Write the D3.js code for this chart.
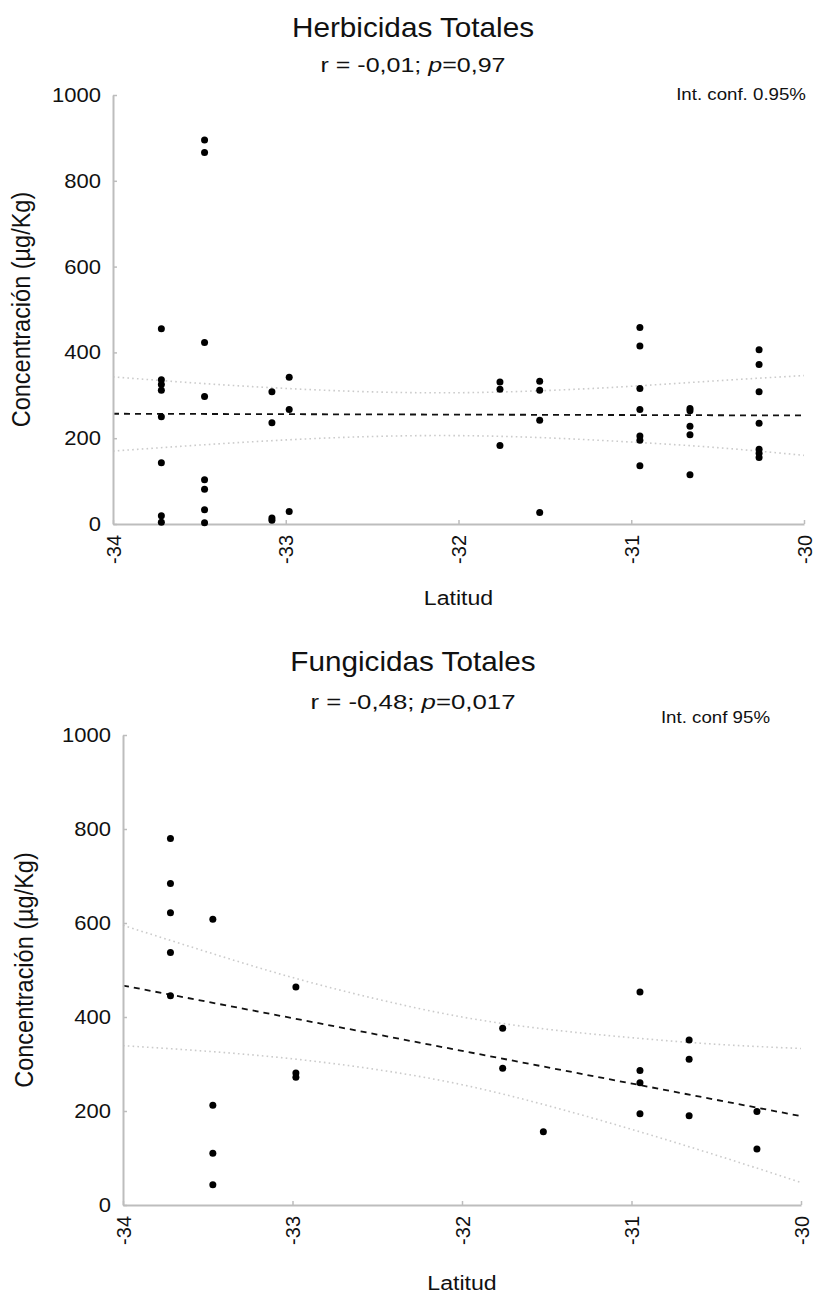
<!DOCTYPE html>
<html>
<head>
<meta charset="utf-8">
<script src="https://cdn.jsdelivr.net/npm/d3@7"></script>
<style>
  html, body { margin: 0; padding: 0; background: #fff; }
  svg text { font-family: "Liberation Sans", Arial, Helvetica, sans-serif; fill: #111; }
</style>
</head>
<body>
<svg id="fig" width="814" height="1294"></svg>
<script>
// Herbicides: sampling latitude and total concentration (µg/Kg)
const herbLat = [
  -33.72, -33.72, -33.72, -33.72, -33.72, -33.72, -33.72, -33.72,
  -33.47, -33.47, -33.47, -33.47, -33.47, -33.47, -33.47, -33.47,
  -33.08, -33.08, -33.08, -33.08,
  -32.98, -32.98, -32.98,
  -31.76, -31.76, -31.76,
  -31.53, -31.53, -31.53, -31.53,
  -30.95, -30.95, -30.95, -30.95, -30.95, -30.95, -30.95,
  -30.66, -30.66, -30.66, -30.66, -30.66,
  -30.26, -30.26, -30.26, -30.26, -30.26, -30.26, -30.26
];
const herbVal = [
  455, 336, 325, 312, 250, 143, 19, 4,
  895, 866, 423, 297, 103, 81, 33, 3,
  308, 236, 14, 9,
  342, 267, 29,
  331, 314, 183,
  333, 312, 242, 27,
  458, 415, 316, 267, 205, 195, 136,
  269, 264, 228, 208, 115,
  406, 372, 308, 235, 174, 165, 155
];
// Herbicides: fitted line and 95% confidence band
const herbFitLat = [-34, -30];
const herbFitVal = [257, 253];
const herbCiLat   = [-34, -33.5, -33, -32.5, -32, -31.5, -31, -30.5, -30];
const herbCiUpper = [343, 328, 316, 308, 306, 311, 321, 334, 346];
const herbCiLower = [170, 184, 196, 204, 206, 201, 191, 178, 160];

// Fungicides: sampling latitude and total concentration (µg/Kg)
const fungLat = [
  -33.72, -33.72, -33.72, -33.72, -33.72,
  -33.47, -33.47, -33.47, -33.47,
  -32.98, -32.98, -32.98,
  -31.76, -31.76,
  -31.52,
  -30.95, -30.95, -30.95, -30.95,
  -30.66, -30.66, -30.66,
  -30.26, -30.26
];
const fungVal = [
  780, 684, 622, 537, 445,
  608, 212, 110, 43,
  464, 281, 272,
  376, 291,
  156,
  453, 286, 260, 194,
  351, 310, 190,
  199, 119
];
// Fungicides: fitted line and 95% confidence band
const fungFitLat = [-34, -30];
const fungFitVal = [467, 189];
const fungCiLat   = [-34, -33.5, -33, -32.5, -32, -31.5, -31, -30.5, -30];
const fungCiUpper = [595, 538, 484, 438, 400, 374, 356, 342, 333];
const fungCiLower = [339, 327, 311, 288, 256, 212, 161, 106, 48];

// Axis ticks
const latTicks = [-34, -33, -32, -31, -30];
const concTicks = [0, 200, 400, 600, 800, 1000];

// Text
const xTitle = "Latitud";
const yTitle = "Concentración (µg/Kg)";

const svg = d3.select("#fig");
svg.append("rect").attr("width", 814).attr("height", 1294).attr("fill", "#fff");

const SX = 1.1; // horizontal text stretch

function hText(g, x, y, size, anchor) {
  return g.append("text")
    .attr("transform", `translate(${x},${y}) scale(${SX},1)`)
    .attr("text-anchor", anchor)
    .style("font-size", size + "px");
}

function panel(p) {
  const g = svg.append("g");
  const x = d3.scaleLinear().domain([-34, -30]).range([p.left, p.right]);
  const y = d3.scaleLinear().domain([0, 1000]).range([p.bottom, p.top]);

  // confidence band
  const band = d3.line().x((d, i) => x(p.ciLat[i])).y(d => y(d)).curve(d3.curveNatural);
  [p.ciUpper, p.ciLower].forEach(arr => {
    g.append("path").attr("d", band(arr))
      .attr("fill", "none").attr("stroke", "#cbcbcb")
      .attr("stroke-width", 1.6).attr("stroke-dasharray", "1.6,3.2");
  });

  // fitted line
  const fit = d3.line().x((d, i) => x(p.fitLat[i])).y(d => y(d));
  g.append("path").attr("d", fit(p.fitVal))
    .attr("fill", "none").attr("stroke", "#111")
    .attr("stroke-width", 1.8).attr("stroke-dasharray", "6,5");

  // axes
  const ax = g.append("g").attr("transform", `translate(0,${p.bottom})`)
    .call(d3.axisBottom(x).tickValues(latTicks).tickFormat(d => String(d))
      .tickSizeInner(-4).tickSizeOuter(0));
  ax.selectAll("text")
    .attr("transform", "rotate(-90)")
    .attr("x", -11).attr("y", 0).attr("dy", "0.35em")
    .attr("text-anchor", "end")
    .style("font-size", "20px").attr("fill", "#111");

  const ay = g.append("g").attr("transform", `translate(${p.left},0)`)
    .call(d3.axisLeft(y).tickValues(concTicks).tickFormat(d => String(d))
      .tickSizeInner(-4).tickSizeOuter(0).tickPadding(12));
  ay.selectAll("text").style("font-size", "20px").attr("fill", "#111");
  ay.selectAll("text").each(function () {
    const t = d3.select(this);
    const tx = +t.attr("x");
    t.attr("x", null).attr("transform", `translate(${tx},0) scale(${SX},1)`);
  });

  [ax, ay].forEach(a => {
    a.select(".domain").attr("stroke", "#bdbdbd").attr("stroke-width", 2);
    a.selectAll(".tick line").attr("stroke", "#bdbdbd").attr("stroke-width", 1.5);
  });

  // points
  g.append("g").selectAll("circle").data(p.val).join("circle")
    .attr("cx", (d, i) => x(p.lat[i])).attr("cy", d => y(d))
    .attr("r", 3.5).attr("fill", "#000");

  // titles
  hText(g, 413, p.titleY, 27, "middle").text(p.title);
  const sub = g.append("text")
    .attr("x", 413).attr("y", p.subY)
    .attr("text-anchor", "middle")
    .attr("textLength", p.subW).attr("lengthAdjust", "spacingAndGlyphs")
    .style("font-size", "21px");
  sub.append("tspan").text(p.r);
  sub.append("tspan").style("font-style", "italic").text("p");
  sub.append("tspan").text(p.pv);
  hText(g, p.ciX, p.ciY, 17, "end").text(p.ciLabel);

  hText(g, (p.left + p.right) / 2, p.xTitleY, 21, "middle").text(xTitle);
  g.append("text")
    .attr("transform", `translate(${p.yTitleX},${(p.top + p.bottom) / 2}) scale(${SX},1) rotate(-90)`)
    .attr("text-anchor", "middle")
    .style("font-size", "23.5px").text(yTitle);
}

panel({
  left: 113, right: 804, top: 95, bottom: 524,
  lat: herbLat, val: herbVal,
  fitLat: herbFitLat, fitVal: herbFitVal,
  ciLat: herbCiLat, ciUpper: herbCiUpper, ciLower: herbCiLower,
  title: "Herbicidas Totales", titleY: 37,
  r: "r = -0,01; ", pv: "=0,97", subY: 72, subW: 185,
  ciLabel: "Int. conf. 0.95%", ciX: 806, ciY: 100,
  xTitleY: 605, yTitleX: 30
});

panel({
  left: 123, right: 801, top: 735, bottom: 1205,
  lat: fungLat, val: fungVal,
  fitLat: fungFitLat, fitVal: fungFitVal,
  ciLat: fungCiLat, ciUpper: fungCiUpper, ciLower: fungCiLower,
  title: "Fungicidas Totales", titleY: 671,
  r: "r = -0,48; ", pv: "=0,017", subY: 709, subW: 205,
  ciLabel: "Int. conf 95%", ciX: 770, ciY: 723,
  xTitleY: 1290, yTitleX: 33
});
</script>
</body>
</html>
